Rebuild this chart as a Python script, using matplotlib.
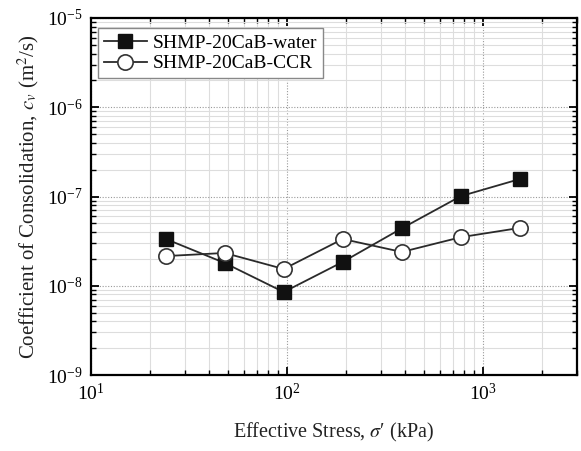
import numpy as np
import matplotlib.pyplot as plt
from matplotlib.ticker import LogLocator, NullFormatter

plt.rcParams['font.family'] = ['Liberation Serif', 'DejaVu Serif']
plt.rcParams['mathtext.fontset'] = 'stix'

# effective stress (kPa) and coefficient of consolidation (m2/s)
stress = [24, 48, 96, 192, 384, 768, 1536]
cv_water = [3.35e-8, 1.80e-8, 8.5e-9, 1.85e-8, 4.4e-8, 1.01e-7, 1.57e-7]
cv_ccr = [2.15e-8, 2.33e-8, 1.54e-8, 3.34e-8, 2.39e-8, 3.5e-8, 4.45e-8]
labels = ['SHMP-20CaB-water', 'SHMP-20CaB-CCR']

fig = plt.figure(figsize=(5.81, 4.51), dpi=100)
ax = fig.add_axes([0.1566, 0.1685, 0.8365, 0.7916])

ax.plot(stress, cv_water, '-s', color='#2a2a2a', lw=1.3, ms=9.5,
        mfc='#111111', mec='#111111', label=labels[0], zorder=3)
ax.plot(stress, cv_ccr, '-o', color='#2a2a2a', lw=1.3, ms=11,
        mfc='white', mec='#333333', mew=1.2, label=labels[1], zorder=3)

ax.set_xscale('log')
ax.set_yscale('log')
ax.set_xlim(10, 3000)
ax.set_ylim(1e-9, 1e-5)

ax.xaxis.set_minor_locator(LogLocator(base=10, subs=np.arange(2, 10), numticks=20))
ax.yaxis.set_minor_locator(LogLocator(base=10, subs=np.arange(2, 10), numticks=20))
ax.xaxis.set_minor_formatter(NullFormatter())
ax.yaxis.set_minor_formatter(NullFormatter())

ax.grid(which='major', color='#9a9a9a', ls=(0, (1, 1.5)), lw=0.8)
ax.grid(which='minor', color='#dddddd', ls='-', lw=0.8)
ax.set_axisbelow(True)

ax.tick_params(which='both', direction='in', top=True, right=True,
               labelsize=14, color='black')
ax.tick_params(which='major', length=6, width=1.3, pad=6)
ax.tick_params(which='minor', length=3.5, width=1.0)
for s in ax.spines.values():
    s.set_linewidth(1.6)

ax.set_xlabel('Effective Stress, $\\sigma$\u2032 (kPa)', fontsize=14.5, labelpad=12, color='#222222')
ax.set_ylabel('Coefficient of Consolidation, $c_v$ (m$^2$/s)', fontsize=15, labelpad=4, color='#222222')

leg = ax.legend(loc='upper left', bbox_to_anchor=(0.003, 0.987), fontsize=14,
                frameon=True, fancybox=False, edgecolor='#888888', framealpha=1,
                borderpad=0.3, handlelength=2.2, handletextpad=0.3,
                labelspacing=0.15, borderaxespad=0.3)
leg.get_frame().set_linewidth(1.0)

fig.savefig('out.png', dpi=100)
